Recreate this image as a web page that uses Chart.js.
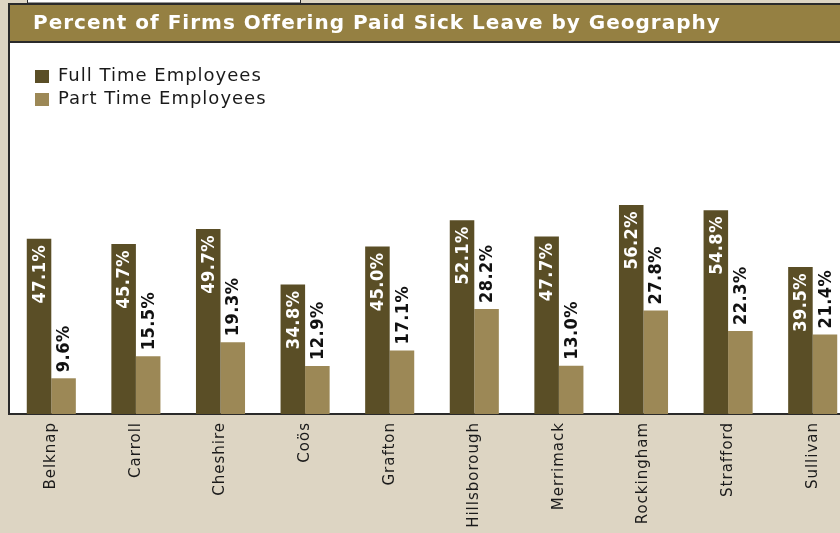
<!DOCTYPE html>
<html>
<head>
<meta charset="utf-8">
<script src="https://cdn.jsdelivr.net/npm/chart.js@4.4.1/dist/chart.umd.min.js"></script>
<style>
  html, body { margin: 0; padding: 0; width: 840px; height: 533px; overflow: hidden; background: #ddd5c3; }
  canvas { display: block; }
</style>
</head>
<body>
<canvas id="c" width="860" height="533"></canvas>
<script>
const categories = ['Belknap', 'Carroll', 'Cheshire', 'Coös', 'Grafton', 'Hillsborough', 'Merrimack', 'Rockingham', 'Strafford', 'Sullivan'];
const fullTime = [47.1, 45.7, 49.7, 34.8, 45.0, 52.1, 47.7, 56.2, 54.8, 39.5];
const partTime = [9.6, 15.5, 19.3, 12.9, 17.1, 28.2, 13.0, 27.8, 22.3, 21.4];
const seriesNames = ['Full Time Employees', 'Part Time Employees'];
const titleText = 'Percent of Firms Offering Paid Sick Leave by Geography';

const COL_BG = '#ddd5c3';
const COL_TITLE = '#958042';
const COL_FULL = '#5a4e26';
const COL_PART = '#9c8856';
const COL_BORDER = '#2a2a2a';

const decor = {
  id: 'decor',
  beforeDraw(chart) {
    const ctx = chart.ctx;
    const a = chart.chartArea;
    ctx.save();
    ctx.fillStyle = COL_BG;
    ctx.fillRect(0, 0, chart.width, chart.height);
    // fragment of box above
    ctx.fillStyle = '#ffffff';
    ctx.fillRect(28, -2, 272, 5);
    ctx.strokeStyle = COL_BORDER;
    ctx.lineWidth = 1;
    ctx.strokeRect(27.5, -2, 273, 5);
    // title bar
    ctx.fillStyle = COL_TITLE;
    ctx.fillRect(9, 4, chart.width, 38);
    ctx.lineWidth = 2;
    ctx.strokeStyle = COL_BORDER;
    ctx.strokeRect(9, 4, chart.width + 10, 38);
    // plot area
    ctx.fillStyle = '#ffffff';
    ctx.fillRect(a.left, 43, chart.width, a.bottom - 43);
    ctx.beginPath();
    ctx.moveTo(a.left, 43);
    ctx.lineTo(a.left, a.bottom);
    ctx.stroke();
    ctx.restore();
    chart.ctx.letterSpacing = '1px';
  }
};

const layoutTweak = {
  id: 'layoutTweak',
  afterLayout(chart) {
    const lg = chart.legend;
    lg.left = 30;
    lg.top = 62.5;
    lg.bottom = 414;
    chart.titleBlock.left = 33;
  }
};

const barLabels = {
  id: 'barLabels',
  afterDatasetsDraw(chart) {
    const ctx = chart.ctx;
    ctx.save();
    ctx.letterSpacing = '0.5px';
    ctx.font = 'bold 18px "DejaVu Sans Condensed", "DejaVu Sans"';
    ctx.textBaseline = 'middle';
    chart.data.datasets.forEach((ds, di) => {
      const meta = chart.getDatasetMeta(di);
      meta.data.forEach((bar, i) => {
        const txt = ds.data[i].toFixed(1) + '%';
        ctx.save();
        if (di === 0) {
          ctx.translate(bar.x + 1, bar.y + 6);
          ctx.rotate(-Math.PI / 2);
          ctx.textAlign = 'right';
          ctx.fillStyle = '#ffffff';
        } else {
          ctx.translate(bar.x + 1, bar.y - 6);
          ctx.rotate(-Math.PI / 2);
          ctx.textAlign = 'left';
          ctx.fillStyle = '#111111';
        }
        ctx.fillText(txt, 0, 0);
        ctx.restore();
      });
    });
    ctx.restore();
  }
};

new Chart(document.getElementById('c'), {
  type: 'bar',
  data: {
    labels: categories,
    datasets: [
      { label: seriesNames[0], data: fullTime, backgroundColor: COL_FULL, borderColor: COL_FULL, borderWidth: 0 },
      { label: seriesNames[1], data: partTime, backgroundColor: COL_PART, borderColor: COL_PART, borderWidth: 0 }
    ]
  },
  options: {
    responsive: false,
    animation: false,
    devicePixelRatio: 1,
    layout: { padding: { left: 9, right: 5, top: 0, bottom: 0 } },
    datasets: { bar: { categoryPercentage: 0.58, barPercentage: 1.0 } },
    scales: {
      x: {
        grid: { display: false, drawTicks: false },
        border: { display: true, color: COL_BORDER, width: 2 },
        ticks: {
          autoSkip: false, minRotation: 90, maxRotation: 90, padding: 8,
          color: '#1a1a1a', font: { family: '"DejaVu Sans"', size: 15 }
        },
        afterFit(scale) { scale.height = 119; }
      },
      y: { display: false, min: 0, max: 100 }
    },
    plugins: {
      title: {
        display: true, text: titleText, align: 'start', color: '#ffffff',
        font: { family: '"DejaVu Sans", sans-serif', size: 20, weight: 'bold', lineHeight: 1.2 },
        padding: { top: 12, bottom: 6 }
      },
      legend: {
        display: true, position: 'chartArea', align: 'start',
        labels: { boxWidth: 14, boxHeight: 13, padding: 5, color: '#1a1a1a', font: { family: '"DejaVu Sans"', size: 18 } }
      },
      tooltip: { enabled: false }
    }
  },
  plugins: [decor, layoutTweak, barLabels]
});
</script>
</body>
</html>
